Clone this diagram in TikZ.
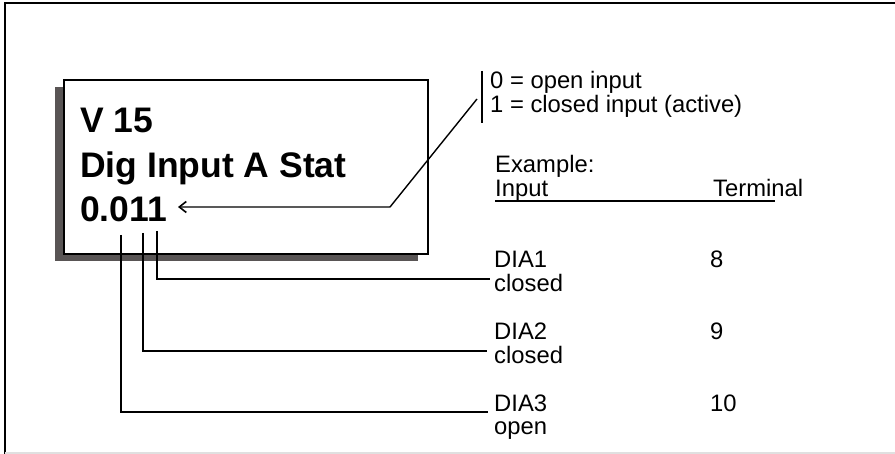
\documentclass[tikz,border=0pt]{standalone}
\usepackage{fontspec}
\setmainfont{Liberation Sans}
\usetikzlibrary{arrows.meta}
\begin{document}
\begin{tikzpicture}[x=1pt,y=-1pt,
  big/.style={anchor=base west,inner sep=0pt,font=\bfseries\fontsize{35.5}{40}\selectfont},
  small/.style={anchor=base west,inner sep=0pt,font=\fontsize{23.8}{27}\selectfont},
  lead/.style={line width=1.4pt},
  shadowc/.style={fill=shadowgrey}]
\definecolor{shadowgrey}{HTML}{595555}
\useasboundingbox (0,0) rectangle (895,454);
% outer frame
\draw[line width=2pt] (5,454) -- (5,3.5) -- (895,3.5);
\draw[line width=1.2pt,black!12] (5,453) -- (895,453);
% display box with shadow
\fill[shadowc] (55,87) rectangle (418,261);
\node[draw,line width=1.8pt,fill=white,minimum width=364pt,minimum height=174pt,inner sep=0pt,anchor=north west] (box) at (63,79) {};
\node[big] (v15) at (80,133) {V 15};
\node[big] (dig) at (80,178) {Dig Input A Stat};
\node[big] (val) at (80,222) {0.011};
% legend
\coordinate (bt) at (482,71);
\coordinate (bb) at (482,123);
\draw[lead] (bt) -- (bb);
\node[small] (l0) at (490,89) {0 = open input};
\node[small] (l1) at (490,113) {1 = closed input (active)};
\coordinate (dtop) at (477,99);
\coordinate (knee) at (390,207);
\coordinate (tip) at (178,207);
\draw[lead,-{Straight Barb[length=7pt,width=11pt,line width=1.6pt]}] (dtop) -- (knee) -- (tip);
% example
\node[small] (ex) at (495,173) {Example:};
\node[small] (inp) at (495,197) {Input};
\node[small] (term) at (713,197) {Terminal};
\coordinate (ul1) at (495,201);
\coordinate (ul2) at (775,201);
\draw[line width=1.8pt] (ul1) -- (ul2);
\node[small] (d1) at (494,268) {DIA1};
\node[small] (c1) at (494,292) {closed};
\node[small] (t1) at (710,268) {8};
\node[small] (d2) at (494,340) {DIA2};
\node[small] (c2) at (494,364) {closed};
\node[small] (t2) at (710,340) {9};
\node[small] (d3) at (494,412) {DIA3};
\node[small] (c3) at (494,435) {open};
\node[small] (t3) at (710,412) {10};
% leaders
\coordinate (a1) at (157,231);
\coordinate (a2) at (143,233);
\coordinate (a3) at (121,235);
\draw[lead] (a1) -- (157,279) -- (490,279);
\draw[lead] (a2) -- (143,351) -- (487,351);
\draw[lead] (a3) -- (121,412) -- (488,412);
\end{tikzpicture}
\end{document}
